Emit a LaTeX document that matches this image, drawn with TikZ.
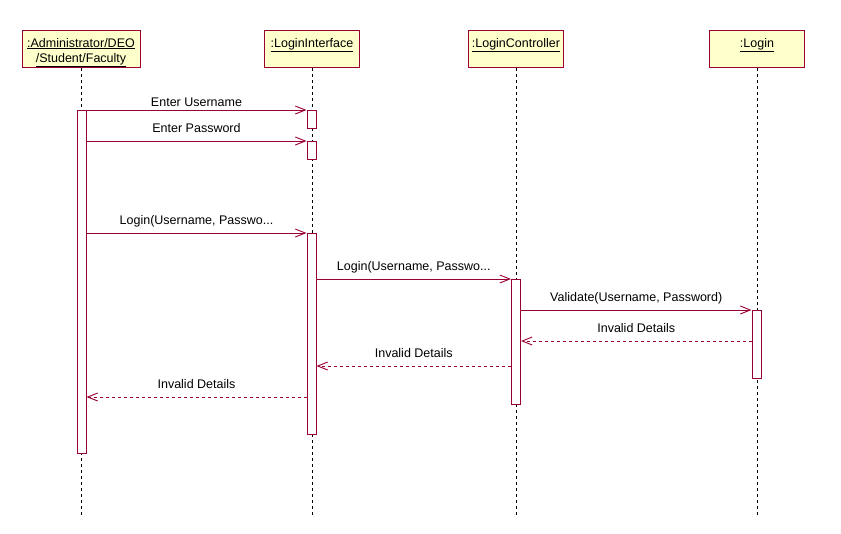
\documentclass[tikz,border=0pt]{standalone}
\usepackage{fontspec}
\setmainfont{Liberation Sans}
\usetikzlibrary{arrows.meta}
\definecolor{umlred}{HTML}{990033}
\definecolor{umlfill}{HTML}{FFFFCC}

\begin{document}
\begin{tikzpicture}[
    x=1pt, y=-1pt,
    font=\fontsize{12.5}{15}\selectfont,
    obj/.style={draw=umlred, fill=umlfill, line width=1pt, minimum height=37pt, anchor=north, inner sep=0pt},
    objtext/.style={anchor=base, inner sep=0pt, align=center},
    lifeline/.style={draw=black, line width=1pt, dash pattern=on 3pt off 3pt},
    bar/.style={draw=umlred, fill=white, line width=1pt, minimum width=9pt, anchor=north, inner sep=0pt},
    msg/.style={draw=umlred, line width=0.9pt, -{Straight Barb[length=10pt, width=8pt, line width=0.9pt]}},
    ret/.style={msg, dash pattern=on 3pt off 3pt},
    msglbl/.style={anchor=base, inner sep=0pt, yshift=9pt}
]
\useasboundingbox (0,0) rectangle (841,533);

% objects
\node[obj, minimum width=118pt] (adm) at (81,30) {};
\node[obj, minimum width=95pt] (lui) at (312,30) {};
\node[obj, minimum width=95pt] (lct) at (516,30) {};
\node[obj, minimum width=95pt] (lgn) at (757,30) {};
\node[objtext] (admt) at (81,62) {\underline{:Administrator/DEO}\\\underline{/Student/Faculty}};
\node[objtext] (luit) at (312,47) {\underline{:LoginInterface}};
\node[objtext] (lctt) at (516,47) {\underline{:LoginController}};
\node[objtext] (lgnt) at (757,47) {\underline{:Login}};

% lifelines
\coordinate (admend) at (81,515);
\coordinate (luiend) at (312,515);
\coordinate (lctend) at (516,515);
\coordinate (lgnend) at (757,515);
\draw[lifeline] (adm.south) -- (admend);
\draw[lifeline] (lui.south) -- (luiend);
\draw[lifeline] (lct.south) -- (lctend);
\draw[lifeline] (lgn.south) -- (lgnend);

% activations
\node[bar, minimum height=343pt] (admA) at (81.5,110) {};
\node[bar, minimum height=18pt] (luiA) at (311.5,110) {};
\node[bar, minimum height=18pt] (luiB) at (311.5,141) {};
\node[bar, minimum height=201pt] (luiC) at (311.5,233) {};
\node[bar, minimum height=125pt] (lctA) at (516,279) {};
\node[bar, minimum height=68pt] (lgnA) at (756.5,310) {};

% messages
\draw[msg] (admA.north east) -- node[msglbl, yshift=-5pt] (m1) {Enter Username} (luiA.north west);
\draw[msg] (admA.east |- luiB.north) -- node[msglbl] (m2) {Enter Password} (luiB.north west);
\draw[msg] (admA.east |- luiC.north) -- node[msglbl] (m3) {Login(Username, Passwo...} (luiC.north west);
\draw[msg] (luiC.east |- lctA.north) -- node[msglbl] (m4) {Login(Username, Passwo...} (lctA.north west);
\draw[msg] (lctA.east |- lgnA.north) -- node[msglbl] (m5) {Validate(Username, Password)} (lgnA.north west);

\coordinate (r1) at (0,341);
\coordinate (r2) at (0,366);
\coordinate (r3) at (0,397);
\draw[ret] (lgnA.west |- r1) -- node[msglbl] (m6) {Invalid Details} (lctA.east |- r1);
\draw[ret] (lctA.west |- r2) -- node[msglbl] (m7) {Invalid Details} (luiC.east |- r2);
\draw[ret] (luiC.west |- r3) -- node[msglbl] (m8) {Invalid Details} (admA.east |- r3);
\end{tikzpicture}
\end{document}
